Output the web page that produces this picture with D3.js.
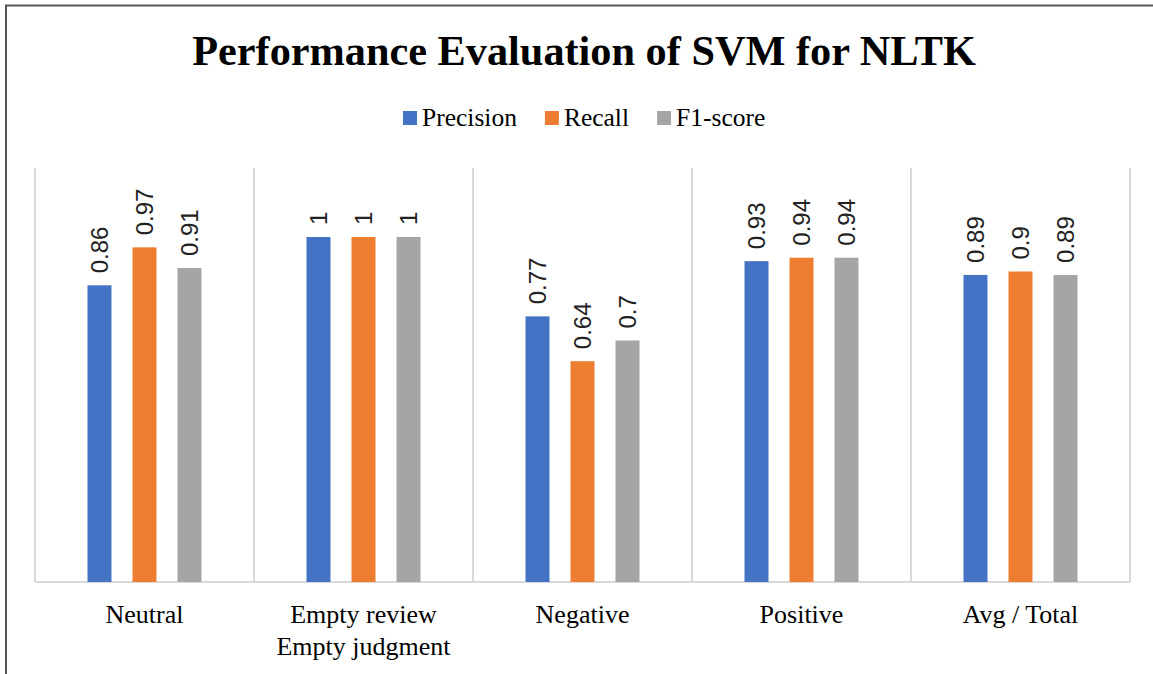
<!DOCTYPE html>
<html>
<head>
<meta charset="utf-8">
<script src="https://cdn.jsdelivr.net/npm/d3@7"></script>
<style>
  body { margin: 0; background: #fff; }
  svg { display: block; }
</style>
</head>
<body>
<script>
// Kategóriák és értékek
const categories = ['Neutral', 'Empty review\nEmpty judgment', 'Negative', 'Positive', 'Avg / Total'];
const seriesNames = ['Precision', 'Recall', 'F1-score'];
const precision = [0.86, 1, 0.77, 0.93, 0.89];
const recall = [0.97, 1, 0.64, 0.94, 0.9];
const f1score = [0.91, 1, 0.7, 0.94, 0.89];
const seriesColors = ['#4472C4', '#ED7D31', '#A5A5A5'];

const seriesValues = [precision, recall, f1score];

const width = 1153;
const height = 674;

const svg = d3.select('body').append('svg')
    .attr('width', width)
    .attr('height', height);

svg.append('rect')
    .attr('width', width)
    .attr('height', height)
    .attr('fill', '#fff');

// Keret (jobb és alsó széle kilóg a képből)
svg.append('rect')
    .attr('x', 6)
    .attr('y', 5.5)
    .attr('width', width + 20)
    .attr('height', height + 20)
    .attr('fill', 'none')
    .attr('stroke', '#555')
    .attr('stroke-width', 2);

// Cím
svg.append('text')
    .attr('x', 584)
    .attr('y', 65)
    .attr('text-anchor', 'middle')
    .style('font-family', '"Liberation Serif", "Times New Roman", serif')
    .style('font-weight', 'bold')
    .style('font-size', '42.3px')
    .attr('fill', '#000')
    .text('Performance Evaluation of SVM for NLTK');

// Skálák
const x0 = d3.scaleBand()
    .domain(categories)
    .range([35, 1130]);

const x1 = d3.scaleBand()
    .domain(seriesNames)
    .range([-67.5, 67.5])
    .paddingInner(0.467)
    .paddingOuter(0.2333);

const y = d3.scaleLinear()
    .domain([0, 1.2])
    .range([582, 168]);

const color = d3.scaleOrdinal()
    .domain(seriesNames)
    .range(seriesColors);

// Függőleges elválasztó vonalak
const bounds = categories.map(c => x0(c)).concat([x0.range()[1]]);
svg.append('g')
    .selectAll('line')
    .data(bounds)
    .enter()
    .append('line')
    .attr('x1', d => d)
    .attr('x2', d => d)
    .attr('y1', y(1.2))
    .attr('y2', y(0))
    .attr('stroke', '#d9d9d9')
    .attr('stroke-width', 2);

// Alapvonal
svg.append('line')
    .attr('x1', x0.range()[0])
    .attr('x2', x0.range()[1])
    .attr('y1', y(0))
    .attr('y2', y(0))
    .attr('stroke', '#d9d9d9')
    .attr('stroke-width', 2);

// Oszlopok adatai
const barData = [];
categories.forEach((cat, i) => {
    seriesNames.forEach((s, j) => {
        barData.push({ cat, series: s, value: seriesValues[j][i] });
    });
});

const center = c => x0(c) + x0.bandwidth() / 2;

svg.append('g')
    .selectAll('rect')
    .data(barData)
    .enter()
    .append('rect')
    .attr('x', d => center(d.cat) + x1(d.series))
    .attr('y', d => y(d.value))
    .attr('width', x1.bandwidth())
    .attr('height', d => y(0) - y(d.value))
    .attr('fill', d => color(d.series));

// Értékcímkék (elforgatva)
svg.append('g')
    .selectAll('text')
    .data(barData)
    .enter()
    .append('text')
    .attr('transform', d => {
        const cx = center(d.cat) + x1(d.series) + x1.bandwidth() / 2;
        return `translate(${cx}, ${y(d.value) - 12}) rotate(-90)`;
    })
    .attr('dy', '0.35em')
    .style('font-family', '"Liberation Sans", Arial, sans-serif')
    .style('font-size', '24px')
    .attr('fill', '#222')
    .text(d => d.value);

// Kategória feliratok
const catLabels = svg.append('g')
    .selectAll('text')
    .data(categories)
    .enter()
    .append('text')
    .attr('x', d => center(d))
    .attr('y', 623)
    .attr('text-anchor', 'middle')
    .style('font-family', '"Liberation Serif", "Times New Roman", serif')
    .style('font-size', '26px')
    .attr('fill', '#000');

catLabels.selectAll('tspan')
    .data(d => d.split('\n').map(t => ({ t, c: d })))
    .enter()
    .append('tspan')
    .attr('x', d => center(d.c))
    .attr('dy', (d, i) => i === 0 ? 0 : 32)
    .text(d => d.t);

// Jelmagyarázat
const legend = svg.append('g');
let lx = 403;
seriesNames.forEach((s, i) => {
    legend.append('rect')
        .attr('x', lx)
        .attr('y', 111)
        .attr('width', 14)
        .attr('height', 14)
        .attr('fill', color(s));
    const t = legend.append('text')
        .attr('x', lx + 19)
        .attr('y', 126)
        .style('font-family', '"Liberation Serif", "Times New Roman", serif')
        .style('font-size', '25.5px')
        .attr('fill', '#000')
        .text(s);
    lx += 19 + t.node().getComputedTextLength() + 28;
});
</script>
</body>
</html>
